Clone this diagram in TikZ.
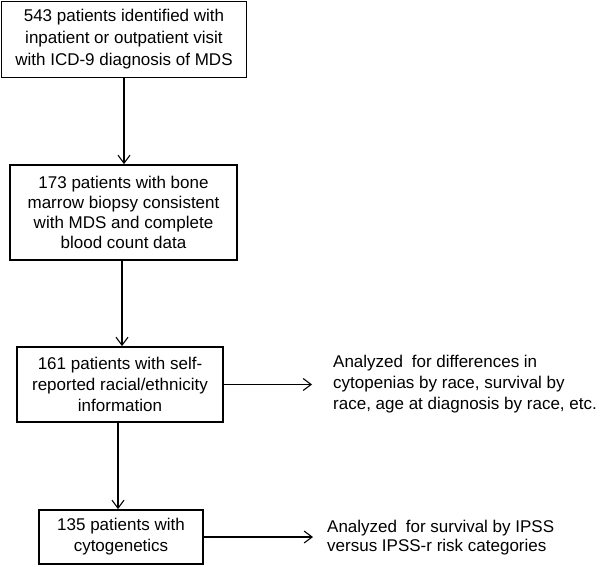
\documentclass[tikz,border=0pt]{standalone}
\usepackage{fontspec}
\setmainfont{Liberation Sans}
\usetikzlibrary{arrows.meta}
\begin{document}
\begin{tikzpicture}[x=1pt,y=-1pt,
  txt/.style={font=\fontsize{17}{21}\selectfont},
  box/.style={txt, draw, line width=1.8pt, align=center, inner sep=0pt},
  note/.style={txt, align=left, anchor=west, inner sep=0pt},
  arr/.style={line width=1.1pt, -{Straight Barb[length=8pt,width=12pt,line width=1.1pt]}}]
\useasboundingbox (0,0) rectangle (600,567);
\node[box, font=\fontsize{17}{22}\selectfont, minimum width=245pt, minimum height=76pt] (b1) at (124,39.5)
  {543 patients identified with\\inpatient or outpatient visit\\with ICD-9 diagnosis of MDS};
\node[box, font=\fontsize{17}{20}\selectfont, minimum width=227pt, minimum height=95pt] (b2) at (123.5,212.5)
  {173 patients with bone\\marrow biopsy consistent\\with MDS and complete\\blood count data};
\node[box, minimum width=206pt, minimum height=75pt] (b3) at (120,384.5)
  {161 patients with self-\\reported racial/ethnicity\\information};
\node[box, minimum width=164pt, minimum height=54pt] (b4) at (121,537)
  {135 patients with\\cytogenetics};
\node[note] (t3) at (333,384.5)
  {Analyzed\hspace{4pt} for differences in\\cytopenias by race, survival by\\race, age at diagnosis by race, etc.};
\node[note, font=\fontsize{17}{19.5}\selectfont] (t4) at (327,537.5)
  {Analyzed\hspace{4pt} for survival by IPSS\\versus IPSS-r risk categories};
\draw[arr] (b1.south) -- (b1.south |- b2.north);
\draw[arr] ([xshift=-1.5pt]b2.south) -- ([xshift=-1.5pt]b2.south |- b3.north);
\draw[arr] ([xshift=-2pt]b3.south) -- ([xshift=-2pt]b3.south |- b4.north);
\draw[arr, shorten >=21pt] (b3.east) -- (b3.east -| t3.west);
\draw[arr, shorten >=14pt] (b4.east) -- (b4.east -| t4.west);
\end{tikzpicture}
\end{document}
